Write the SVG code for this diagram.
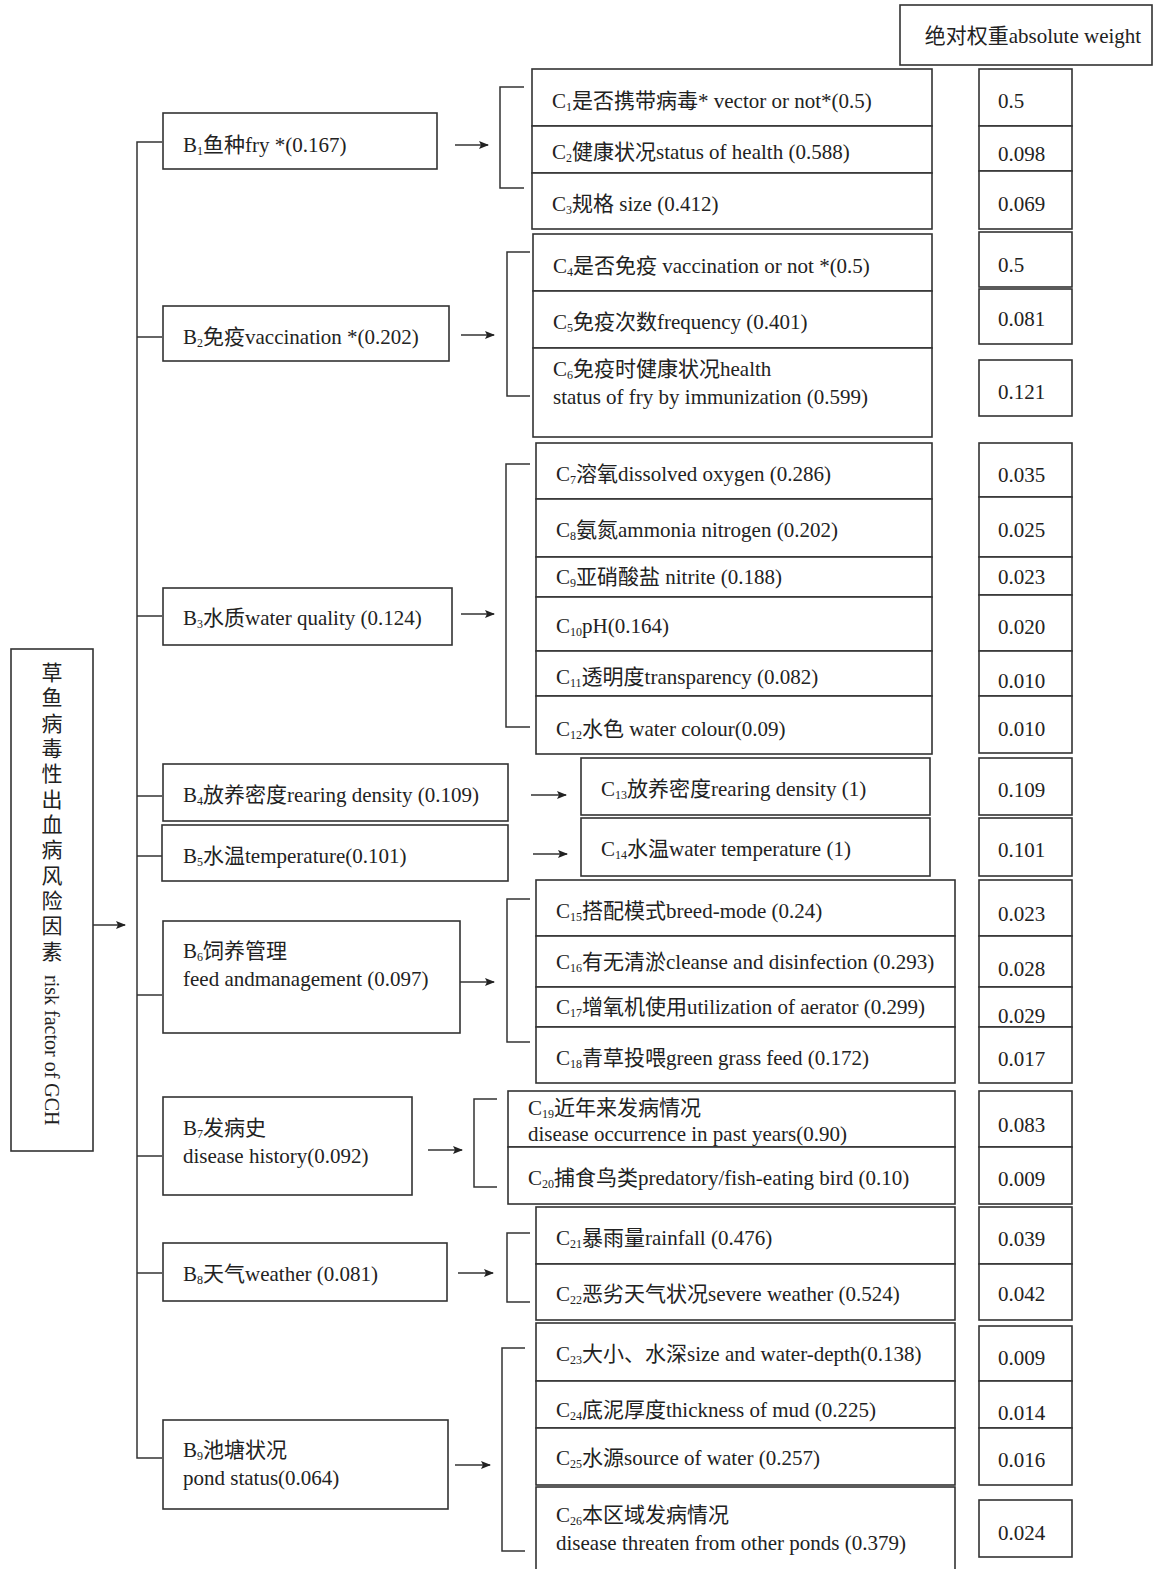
<svg xmlns="http://www.w3.org/2000/svg" width="1154" height="1569" viewBox="0 0 1154 1569">
<defs>
<marker id="ah" markerWidth="10" markerHeight="8" refX="9" refY="4" orient="auto" markerUnits="userSpaceOnUse">
<path d="M0,0 L10,4 L0,8 L2,4 Z" fill="#222"/>
</marker>
<style>
rect{fill:#fff;stroke:#333;stroke-width:1.6}
text{font-family:'Liberation Serif','Noto Sans CJK SC',serif;font-size:21px;fill:#222}
.s{font-size:12px}
#connectors line,#connectors path{stroke:#333;stroke-width:1.5;fill:none}
.arr{marker-end:url(#ah)}
</style>
</defs>
<rect width="1154" height="1569" style="fill:#fff;stroke:none"/>

<g id="header"><rect x="900" y="5" width="252" height="60"/><text x="1033" y="43" text-anchor="middle">绝对权重absolute weight</text></g>

<g id="A">
<rect x="11" y="649" width="82" height="502"/>
<text x="52" text-anchor="middle">
<tspan x="52" y="680">草</tspan><tspan x="52" y="705">鱼</tspan><tspan x="52" y="731">病</tspan><tspan x="52" y="756">毒</tspan><tspan x="52" y="781">性</tspan><tspan x="52" y="807">出</tspan><tspan x="52" y="832">血</tspan><tspan x="52" y="857">病</tspan><tspan x="52" y="883">风</tspan><tspan x="52" y="908">险</tspan><tspan x="52" y="933">因</tspan><tspan x="52" y="959">素</tspan></text>
<text transform="translate(45,975) rotate(90)" style="font-size:20px">risk factor of GCH</text>
</g>

<g id="connectors">
<line class="arr" x1="93" y1="925" x2="125" y2="925"/>
<path d="M162,142 H137 V1458 H162"/>
<line x1="137" y1="337" x2="162" y2="337"/>
<line x1="137" y1="616" x2="162" y2="616"/>
<line x1="137" y1="796" x2="162" y2="796"/>
<line x1="137" y1="856" x2="162" y2="856"/>
<line x1="137" y1="995" x2="162" y2="995"/>
<line x1="137" y1="1156" x2="162" y2="1156"/>
<line x1="137" y1="1273" x2="162" y2="1273"/>
<line class="arr" x1="455" y1="145" x2="488" y2="145"/>
<line class="arr" x1="461" y1="335" x2="494" y2="335"/>
<line class="arr" x1="461" y1="614" x2="494" y2="614"/>
<line class="arr" x1="531" y1="795" x2="566" y2="795"/>
<line class="arr" x1="533" y1="854" x2="567" y2="854"/>
<line class="arr" x1="460" y1="982" x2="494" y2="982"/>
<line class="arr" x1="428" y1="1150" x2="462" y2="1150"/>
<line class="arr" x1="458" y1="1273" x2="493" y2="1273"/>
<line class="arr" x1="455" y1="1465" x2="490" y2="1465"/>
<path d="M524,87 H500 V188 H524"/>
<path d="M530,252 H507 V396 H530"/>
<path d="M530,464 H506 V727 H530"/>
<path d="M530,899 H507 V1042 H530"/>
<path d="M497,1099 H474 V1187 H497"/>
<path d="M530,1233 H507 V1302 H530"/>
<path d="M525,1348 H502 V1551 H525"/>
</g>

<g id="B1"><rect x="163" y="113" width="274" height="56"/><text x="183" y="152">B<tspan class="s" dy="3">1</tspan><tspan dy="-3">鱼种fry *(0.167)</tspan></text></g>
<g id="B2"><rect x="163" y="306" width="286" height="55"/><text x="183" y="344">B<tspan class="s" dy="3">2</tspan><tspan dy="-3">免疫vaccination *(0.202)</tspan></text></g>
<g id="B3"><rect x="163" y="588" width="289" height="57"/><text x="183" y="625">B<tspan class="s" dy="3">3</tspan><tspan dy="-3">水质water quality (0.124)</tspan></text></g>
<g id="B4"><rect x="163" y="764" width="345" height="57"/><text x="183" y="802">B<tspan class="s" dy="3">4</tspan><tspan dy="-3">放养密度rearing density (0.109)</tspan></text></g>
<g id="B5"><rect x="162" y="825" width="346" height="56"/><text x="183" y="863">B<tspan class="s" dy="3">5</tspan><tspan dy="-3">水温temperature(0.101)</tspan></text></g>
<g id="B6"><rect x="163" y="921" width="297" height="112"/><text x="183" y="958">B<tspan class="s" dy="3">6</tspan><tspan dy="-3">饲养管理</tspan></text><text x="183" y="986">feed andmanagement (0.097)</text></g>
<g id="B7"><rect x="163" y="1097" width="249" height="98"/><text x="183" y="1135">B<tspan class="s" dy="3">7</tspan><tspan dy="-3">发病史</tspan></text><text x="183" y="1163">disease history(0.092)</text></g>
<g id="B8"><rect x="163" y="1243" width="284" height="58"/><text x="183" y="1281">B<tspan class="s" dy="3">8</tspan><tspan dy="-3">天气weather (0.081)</tspan></text></g>
<g id="B9"><rect x="163" y="1420" width="285" height="89"/><text x="183" y="1457">B<tspan class="s" dy="3">9</tspan><tspan dy="-3">池塘状况</tspan></text><text x="183" y="1485">pond status(0.064)</text></g>

<g id="C1"><rect x="532" y="69" width="400" height="57"/><text x="552" y="108">C<tspan class="s" dy="3">1</tspan><tspan dy="-3">是否携带病毒* vector or not*(0.5)</tspan></text></g>
<g id="C2"><rect x="532" y="126" width="400" height="47"/><text x="552" y="159">C<tspan class="s" dy="3">2</tspan><tspan dy="-3">健康状况status of health (0.588)</tspan></text></g>
<g id="C3"><rect x="532" y="173" width="400" height="56"/><text x="552" y="211">C<tspan class="s" dy="3">3</tspan><tspan dy="-3">规格 size (0.412)</tspan></text></g>
<g id="C4"><rect x="533" y="234" width="399" height="57"/><text x="553" y="273">C<tspan class="s" dy="3">4</tspan><tspan dy="-3">是否免疫 vaccination or not *(0.5)</tspan></text></g>
<g id="C5"><rect x="533" y="291" width="399" height="57"/><text x="553" y="329">C<tspan class="s" dy="3">5</tspan><tspan dy="-3">免疫次数frequency (0.401)</tspan></text></g>
<g id="C6"><rect x="533" y="348" width="399" height="89"/><text x="553" y="376">C<tspan class="s" dy="3">6</tspan><tspan dy="-3">免疫时健康状况health</tspan></text><text x="553" y="404">status of fry by immunization (0.599)</text></g>
<g id="C7"><rect x="536" y="443" width="396" height="56"/><text x="556" y="481">C<tspan class="s" dy="3">7</tspan><tspan dy="-3">溶氧dissolved oxygen (0.286)</tspan></text></g>
<g id="C8"><rect x="536" y="499" width="396" height="58"/><text x="556" y="537">C<tspan class="s" dy="3">8</tspan><tspan dy="-3">氨氮ammonia nitrogen (0.202)</tspan></text></g>
<g id="C9"><rect x="536" y="557" width="396" height="40"/><text x="556" y="584">C<tspan class="s" dy="3">9</tspan><tspan dy="-3">亚硝酸盐 nitrite (0.188)</tspan></text></g>
<g id="C10"><rect x="536" y="597" width="396" height="54"/><text x="556" y="633">C<tspan class="s" dy="3">10</tspan><tspan dy="-3">pH(0.164)</tspan></text></g>
<g id="C11"><rect x="536" y="651" width="396" height="45"/><text x="556" y="684">C<tspan class="s" dy="3">11</tspan><tspan dy="-3">透明度transparency (0.082)</tspan></text></g>
<g id="C12"><rect x="536" y="696" width="396" height="58"/><text x="556" y="736">C<tspan class="s" dy="3">12</tspan><tspan dy="-3">水色 water colour(0.09)</tspan></text></g>
<g id="C13"><rect x="581" y="758" width="349" height="57"/><text x="601" y="796">C<tspan class="s" dy="3">13</tspan><tspan dy="-3">放养密度rearing density (1)</tspan></text></g>
<g id="C14"><rect x="581" y="818" width="349" height="58"/><text x="601" y="856">C<tspan class="s" dy="3">14</tspan><tspan dy="-3">水温water temperature (1)</tspan></text></g>
<g id="C15"><rect x="536" y="880" width="419" height="56"/><text x="556" y="918">C<tspan class="s" dy="3">15</tspan><tspan dy="-3">搭配模式breed-mode (0.24)</tspan></text></g>
<g id="C16"><rect x="536" y="936" width="419" height="51"/><text x="556" y="969">C<tspan class="s" dy="3">16</tspan><tspan dy="-3">有无清淤cleanse and disinfection (0.293)</tspan></text></g>
<g id="C17"><rect x="536" y="987" width="419" height="40"/><text x="556" y="1014">C<tspan class="s" dy="3">17</tspan><tspan dy="-3">增氧机使用utilization of aerator (0.299)</tspan></text></g>
<g id="C18"><rect x="536" y="1027" width="419" height="56"/><text x="556" y="1065">C<tspan class="s" dy="3">18</tspan><tspan dy="-3">青草投喂green grass feed (0.172)</tspan></text></g>
<g id="C19"><rect x="508" y="1091" width="447" height="56"/><text x="528" y="1115">C<tspan class="s" dy="3">19</tspan><tspan dy="-3">近年来发病情况</tspan></text><text x="528" y="1141">disease occurrence in past years(0.90)</text></g>
<g id="C20"><rect x="508" y="1147" width="447" height="57"/><text x="528" y="1185">C<tspan class="s" dy="3">20</tspan><tspan dy="-3">捕食鸟类predatory/fish-eating bird (0.10)</tspan></text></g>
<g id="C21"><rect x="536" y="1207" width="419" height="57"/><text x="556" y="1245">C<tspan class="s" dy="3">21</tspan><tspan dy="-3">暴雨量rainfall (0.476)</tspan></text></g>
<g id="C22"><rect x="536" y="1264" width="419" height="56"/><text x="556" y="1301">C<tspan class="s" dy="3">22</tspan><tspan dy="-3">恶劣天气状况severe weather (0.524)</tspan></text></g>
<g id="C23"><rect x="536" y="1323" width="419" height="58"/><text x="556" y="1361">C<tspan class="s" dy="3">23</tspan><tspan dy="-3">大小、水深size and water-depth(0.138)</tspan></text></g>
<g id="C24"><rect x="536" y="1381" width="419" height="47"/><text x="556" y="1417">C<tspan class="s" dy="3">24</tspan><tspan dy="-3">底泥厚度thickness of mud (0.225)</tspan></text></g>
<g id="C25"><rect x="536" y="1428" width="419" height="57"/><text x="556" y="1465">C<tspan class="s" dy="3">25</tspan><tspan dy="-3">水源source of water (0.257)</tspan></text></g>
<g id="C26"><rect x="536" y="1487" width="419" height="84"/><text x="556" y="1522">C<tspan class="s" dy="3">26</tspan><tspan dy="-3">本区域发病情况</tspan></text><text x="556" y="1550">disease threaten from other ponds (0.379)</text></g>

<g id="weights">
<rect x="979" y="69" width="93" height="57"/><text x="998" y="108">0.5</text>
<rect x="979" y="126" width="93" height="45"/><text x="998" y="161">0.098</text>
<rect x="979" y="171" width="93" height="58"/><text x="998" y="211">0.069</text>
<rect x="979" y="232" width="93" height="55"/><text x="998" y="272">0.5</text>
<rect x="979" y="289" width="93" height="55"/><text x="998" y="326">0.081</text>
<rect x="979" y="360" width="93" height="56"/><text x="998" y="399">0.121</text>
<rect x="979" y="443" width="93" height="54"/><text x="998" y="482">0.035</text>
<rect x="979" y="497" width="93" height="60"/><text x="998" y="537">0.025</text>
<rect x="979" y="557" width="93" height="38"/><text x="998" y="584">0.023</text>
<rect x="979" y="595" width="93" height="56"/><text x="998" y="634">0.020</text>
<rect x="979" y="651" width="93" height="45"/><text x="998" y="688">0.010</text>
<rect x="979" y="696" width="93" height="57"/><text x="998" y="736">0.010</text>
<rect x="979" y="758" width="93" height="57"/><text x="998" y="797">0.109</text>
<rect x="979" y="818" width="93" height="58"/><text x="998" y="857">0.101</text>
<rect x="979" y="880" width="93" height="56"/><text x="998" y="921">0.023</text>
<rect x="979" y="936" width="93" height="51"/><text x="998" y="976">0.028</text>
<rect x="979" y="987" width="93" height="40"/><text x="998" y="1023">0.029</text>
<rect x="979" y="1027" width="93" height="56"/><text x="998" y="1066">0.017</text>
<rect x="979" y="1091" width="93" height="56"/><text x="998" y="1132">0.083</text>
<rect x="979" y="1147" width="93" height="57"/><text x="998" y="1186">0.009</text>
<rect x="979" y="1207" width="93" height="57"/><text x="998" y="1246">0.039</text>
<rect x="979" y="1264" width="93" height="56"/><text x="998" y="1301">0.042</text>
<rect x="979" y="1326" width="93" height="55"/><text x="998" y="1365">0.009</text>
<rect x="979" y="1381" width="93" height="47"/><text x="998" y="1420">0.014</text>
<rect x="979" y="1428" width="93" height="57"/><text x="998" y="1467">0.016</text>
<rect x="979" y="1500" width="93" height="57"/><text x="998" y="1540">0.024</text>
</g>
</svg>
